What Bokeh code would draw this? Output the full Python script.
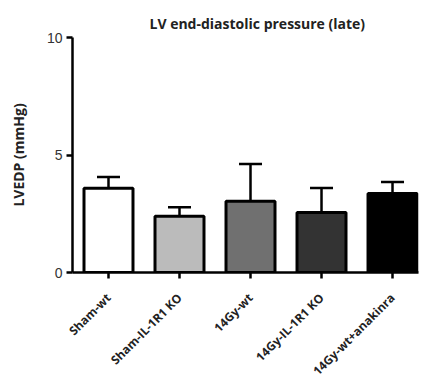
import math
from bokeh.plotting import figure
from bokeh.models import Range1d, FixedTicker, Whisker, ColumnDataSource, TeeHead, Title
from bokeh.embed import file_html
from bokeh.resources import INLINE

categories = ["Sham-wt", "Sham-IL-1R1 KO", "14Gy-wt", "14Gy-IL-1R1 KO", "14Gy-wt+anakinra"]
means = [3.58, 2.39, 3.03, 2.55, 3.36]
upper_err = [4.06, 2.78, 4.62, 3.60, 3.85]
colors = ["#ffffff", "#bbbbbb", "#707070", "#333333", "#000000"]
y_ticks = [0, 5, 10]

xs = list(range(len(categories)))
src = ColumnDataSource(dict(x=xs, top=means, upper=upper_err, color=colors))

p = figure(width=420, height=387, output_backend="svg", toolbar_location=None,
           x_range=Range1d(-0.507, 4.366), y_range=Range1d(0, 10),
           min_border_left=72, min_border_right=2, min_border_top=37, min_border_bottom=115)

p.add_layout(Title(text="LV end-diastolic pressure (late)", align="left", offset=77,
                   text_font="Open Sans", text_font_size="14px", text_font_style="bold",
                   text_color="#222222"), "above")

p.vbar(x="x", top="top", width=0.69, bottom=0, source=src, fill_color="color",
       line_color="black", line_width=3)

w = Whisker(base="x", upper="upper", lower="top", source=src, dimension="height",
            line_color="black", line_width=2.5,
            upper_head=TeeHead(size=23, line_color="black", line_width=2.5), lower_head=None)
p.add_layout(w)

p.grid.visible = False
p.outline_line_color = None

p.yaxis.ticker = FixedTicker(ticks=y_ticks)
p.yaxis.axis_label = "LVEDP (mmHg)"
p.yaxis.axis_label_text_font = "Open Sans"
p.yaxis.axis_label_text_font_size = "14px"
p.yaxis.axis_label_text_font_style = "bold"
p.yaxis.axis_label_text_color = "#222222"
p.yaxis.axis_label_standoff = 16
p.yaxis.major_label_text_font = "Liberation Sans"
p.yaxis.major_label_text_font_size = "14px"
p.yaxis.major_label_text_color = "#333333"
p.yaxis.major_label_standoff = 4
p.yaxis.major_tick_out = 6
p.yaxis.major_tick_in = 0
p.yaxis.minor_tick_line_color = None
p.yaxis.axis_line_width = 2.5
p.yaxis.major_tick_line_width = 2.5

p.xaxis.ticker = FixedTicker(ticks=xs)
p.xaxis.major_label_overrides = {i: c for i, c in enumerate(categories)}
p.xaxis.major_label_orientation = math.pi / 4
p.xaxis.major_label_text_font = "Open Sans"
p.xaxis.major_label_text_font_size = "12px"
p.xaxis.major_label_text_font_style = "bold"
p.xaxis.major_label_text_color = "#222222"
p.xaxis.major_label_standoff = 17
p.xaxis.major_tick_out = 6
p.xaxis.major_tick_in = 0
p.xaxis.minor_tick_line_color = None
p.xaxis.axis_line_width = 2.5
p.xaxis.major_tick_line_width = 2.5

open("out.html", "w").write(file_html(p, INLINE))
